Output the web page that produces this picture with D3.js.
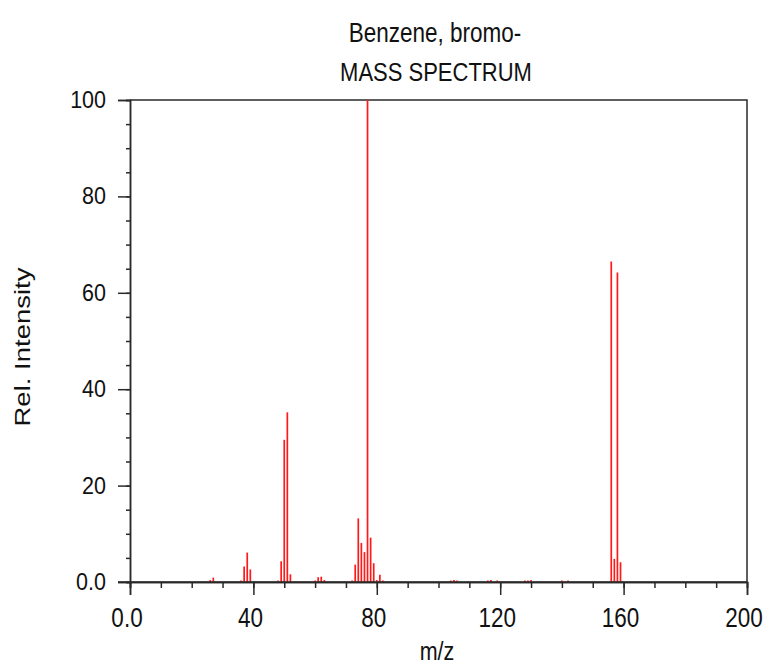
<!DOCTYPE html>
<html><head><meta charset="utf-8">
<script src="https://cdn.jsdelivr.net/npm/d3@7"></script>
<style>
html,body{margin:0;padding:0;background:#fff;}
svg{display:block;}
text{font-family:"Liberation Sans",Arial,sans-serif;fill:#111;}
</style></head>
<body>
<svg id="chart" width="765" height="666"></svg>
<script>
// ---- data ----
const titleLines = ["Benzene, bromo-", "MASS SPECTRUM"];
const xLabel = "m/z";
const yLabel = "Rel. Intensity";
const mzValues = [26,27,36,37,38,39,48,49,50,51,52,60,61,62,63,72,73,74,75,76,77,78,79,80,81,82,104,105,106,116,117,119,128,129,130,140,142,156,157,158,159];
const intensities = [0.4,0.9,0.3,3.2,6.1,2.6,0.3,4.3,29.5,35.2,1.6,0.3,1.0,1.1,0.4,0.3,3.6,13.2,8.1,6.2,100,9.2,3.9,0.4,1.5,0.3,0.3,0.4,0.3,0.3,0.4,0.3,0.3,0.3,0.4,0.3,0.3,66.5,4.8,64.2,4.1];
const xMajorTicks = [0,40,80,120,160,200];
const xTickLabels = ["0.0","40","80","120","160","200"];
const yMajorTicks = [0,20,40,60,80,100];
const yTickLabels = ["0.0","20","40","60","80","100"];

// ---- layout ----
const svg = d3.select("#chart");
const plotLeft = 130, plotRight = 747, plotTop = 100, plotBottom = 582;
const x = d3.scaleLinear().domain([0,200]).range([plotLeft,plotRight]);
const y = d3.scaleLinear().domain([0,100]).range([plotBottom,plotTop]);
const axisColor = "#2a2a2a";

// frame (top and right)
svg.append("path")
  .attr("d", `M${plotLeft},${plotTop}H${plotRight}V${plotBottom}`)
  .attr("fill","none").attr("stroke",axisColor).attr("stroke-width",1.5);

// axes: minor + major ticks
const gxMinor = svg.append("g").attr("transform",`translate(0,${plotBottom})`)
  .call(d3.axisBottom(x).tickValues(d3.range(0,201,10)).tickSize(6).tickFormat(""));
const gxMajor = svg.append("g").attr("transform",`translate(0,${plotBottom})`)
  .call(d3.axisBottom(x).tickValues(xMajorTicks).tickSize(13).tickFormat(""));
const gyMinor = svg.append("g").attr("transform",`translate(${plotLeft},0)`)
  .call(d3.axisLeft(y).tickValues(d3.range(0,101,5)).tickSize(4).tickFormat(""));
const gyMajor = svg.append("g").attr("transform",`translate(${plotLeft},0)`)
  .call(d3.axisLeft(y).tickValues(yMajorTicks).tickSize(12).tickFormat(""));
[gxMinor,gxMajor,gyMinor,gyMajor].forEach(g=>{
  g.selectAll("path.domain").attr("stroke",axisColor).attr("stroke-width",1.5);
  g.selectAll(".tick line").attr("stroke",axisColor).attr("stroke-width",1.5);
});
svg.append("line").attr("x1",plotLeft-12).attr("x2",plotLeft).attr("y1",plotBottom).attr("y2",plotBottom)
  .attr("stroke",axisColor).attr("stroke-width",1.5);

// peaks
const peaks = mzValues.map((m,i)=>({mz:m, v:intensities[i]}));
svg.append("g").selectAll("line").data(peaks).join("line")
  .attr("x1",d=>x(d.mz)).attr("x2",d=>x(d.mz))
  .attr("y1",y(0)).attr("y2",d=>y(d.v))
  .attr("stroke","#ff1a1a").attr("stroke-width",1.7);

svg.append("line").attr("x1",plotLeft).attr("x2",plotRight).attr("y1",plotBottom).attr("y2",plotBottom)
  .attr("stroke",axisColor).attr("stroke-width",1.5);

// x tick labels
svg.append("g").selectAll("text").data(xMajorTicks).join("text")
  .attr("transform",d=>`translate(${x(d)-3},627) scale(1,1.2)`)
  .attr("text-anchor","middle").attr("font-size",22.5)
  .text((d,i)=>xTickLabels[i]);

// y tick labels
svg.append("g").selectAll("text").data(yMajorTicks).join("text")
  .attr("transform",d=>`translate(106,${y(d)+8}) scale(1,1.08)`)
  .attr("text-anchor","end").attr("font-size",21.5)
  .text((d,i)=>yTickLabels[i]);

// titles
svg.append("text").attr("transform","translate(435,42) scale(1,1.25)")
  .attr("text-anchor","middle").attr("font-size",22.5).text(titleLines[0]);
svg.append("text").attr("transform","translate(436,81) scale(1,1.18)")
  .attr("text-anchor","middle").attr("font-size",22).text(titleLines[1]);

// axis labels
svg.append("text").attr("transform","translate(437,660) scale(1,1.2)")
  .attr("text-anchor","middle").attr("font-size",21.5).text(xLabel);
svg.append("text").attr("transform","translate(30,347) rotate(-90) scale(1.28,1)")
  .attr("text-anchor","middle").attr("font-size",21.5).text(yLabel);
</script>
</body></html>
